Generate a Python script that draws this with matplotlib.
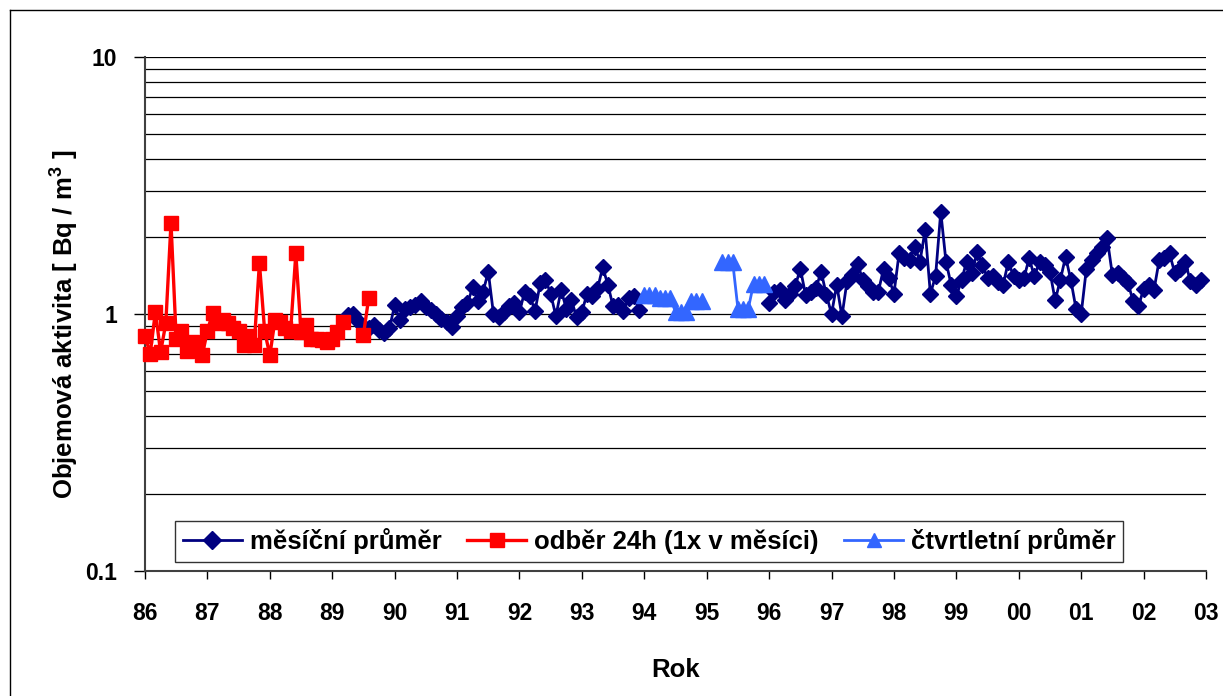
import numpy as np
import matplotlib
matplotlib.use("Agg")
import matplotlib.pyplot as plt
from matplotlib.lines import Line2D

plt.rcParams['font.family'] = ['Liberation Sans', 'DejaVu Sans']
plt.rcParams['font.weight'] = 'bold'
plt.rcParams['mathtext.fontset'] = 'custom'
plt.rcParams['mathtext.bf'] = 'Liberation Sans:bold'
plt.rcParams['mathtext.rm'] = 'Liberation Sans:bold'

# ---------------- data (monthly, month index 0 = Jan 1986) ----------------
red_start = 0
red_values = [0.82, 0.70, 1.02, 0.71, 0.92, 2.26, 0.80, 0.86, 0.72, 0.78,
              0.75, 0.69, 0.86, 1.01, 0.92, 0.95, 0.92, 0.88, 0.86, 0.76,
              0.82, 0.76, 1.58, 0.86, 0.69, 0.95, 0.93, 0.88, 0.86, 1.72,
              0.85, 0.91, 0.80, 0.80, 0.79, 0.78, 0.80, 0.85, 0.93, np.nan,
              np.nan, np.nan, 0.83, 1.15]

blue1_start = 39
blue1_values = [0.99, 1.00, 0.94, 0.90, 0.88, 0.91, 0.87, 0.84, 0.88, 1.08,
                0.95, 1.05, 1.06, 1.08, 1.12, 1.06, 1.04, 1.00, 0.96, 0.93,
                0.89, 0.98, 1.06, 1.10, 1.27, 1.12, 1.22, 1.46, 1.00, 0.97,
                1.02, 1.07, 1.10, 1.02, 1.22, 1.17, 1.03, 1.32, 1.36, 1.20,
                0.98, 1.24, 1.05, 1.13, 0.97, 1.02, 1.20, 1.18, 1.25, 1.52,
                1.30, 1.07, 1.08, 1.03, 1.15, 1.17, 1.04]

blue2_start = 120
blue2_values = [1.10, 1.22, 1.24, 1.13, 1.20, 1.28, 1.50, 1.19, 1.22, 1.26,
                1.46, 1.19, 1.00, 1.30, 0.98, 1.35, 1.42, 1.57, 1.36, 1.28,
                1.22, 1.22, 1.50, 1.38, 1.20, 1.73, 1.65, 1.62, 1.83, 1.60,
                2.12, 1.20, 1.40, 2.50, 1.60, 1.30, 1.17, 1.36, 1.60, 1.45,
                1.74, 1.55, 1.38, 1.40, 1.33, 1.30, 1.60, 1.40, 1.36, 1.38,
                1.65, 1.40, 1.60, 1.55, 1.46, 1.13, 1.36, 1.67, 1.36, 1.05,
                1.00, 1.50, 1.62, 1.72, 1.83, 1.97, 1.42, 1.45, 1.38, 1.32,
                1.12, 1.07, 1.25, 1.30, 1.24, 1.62, 1.65, 1.72, 1.44, 1.50,
                1.60, 1.34, 1.30, 1.36]

quart_start = 96
quart_values = [1.19, 1.19, 1.19, 1.15, 1.15, 1.15, 1.02, 1.02, 1.02,
                1.12, 1.12, 1.12, np.nan, np.nan, np.nan, 1.59, 1.59, 1.59,
                1.05, 1.05, 1.05, 1.31, 1.31, 1.31]

year_ticks = list(range(86, 104))
year_labels = [f"{y % 100:02d}" for y in year_ticks]
y_ticks = [0.1, 1, 10]
y_tick_labels = ["0.1", "1", "10"]


def months_to_x(start, values):
    return 86 + (start + np.arange(len(values))) / 12.0


W, H = 1223, 696
fig = plt.figure(figsize=(W / 100, H / 100), dpi=100)
ax = fig.add_axes([145 / W, 1 - 571 / H, (1206 - 145) / W, (571 - 57) / H])

navy = '#000080'
red = '#FF0000'
lblue = '#3366FF'

ax.plot(months_to_x(blue1_start, blue1_values), blue1_values, color=navy,
        lw=2, marker='D', ms=8.5, mec=navy, mfc=navy, zorder=3, clip_on=False,
        label='měsíční průměr')
ax.plot(months_to_x(blue2_start, blue2_values), blue2_values, color=navy,
        lw=2, marker='D', ms=8.5, mec=navy, mfc=navy, zorder=3, clip_on=False)
ax.plot(months_to_x(red_start, red_values), red_values, color=red,
        lw=2.4, marker='s', ms=10.5, mec=red, mfc=red, zorder=4, clip_on=False,
        label='odběr 24h (1x v měsíci)')
ax.plot(months_to_x(quart_start, quart_values), quart_values, color=lblue,
        lw=2, marker='^', ms=11, mec=lblue, mfc=lblue, zorder=3, clip_on=False,
        label='čtvrtletní průměr')

ax.set_yscale('log')
ax.set_ylim(0.1, 10)
ax.set_xlim(86, 103)
ax.set_yticks(y_ticks)
ax.set_yticklabels(y_tick_labels)
ax.yaxis.set_minor_locator(matplotlib.ticker.LogLocator(base=10, subs=np.arange(2, 10)))
ax.yaxis.set_minor_formatter(matplotlib.ticker.NullFormatter())
ax.set_xticks(year_ticks)
ax.set_xticklabels(year_labels)

ax.grid(True, which='both', axis='y', color='#000000', lw=0.9)
ax.set_axisbelow(True)
ax.tick_params(axis='y', which='minor', length=0)
ax.tick_params(axis='y', which='major', direction='out', length=8, width=1,
               pad=12, labelsize=16.5)
ax.tick_params(axis='x', which='major', direction='out', length=6, width=1,
               pad=16, labelsize=16.5)
for lab in ax.get_xticklabels() + ax.get_yticklabels():
    lab.set_fontweight('bold')

for s in ['top', 'right']:
    ax.spines[s].set_visible(False)
ax.spines['left'].set_color('#404040')
ax.spines['bottom'].set_color('#404040')
ax.spines['left'].set_linewidth(1.5)
ax.spines['bottom'].set_linewidth(1.5)

ax.set_xlabel('Rok', fontsize=18.5, fontweight='bold', labelpad=24)
ax.set_ylabel('Objemová aktivita [ Bq / m$^\\mathbf{3}$ ]', fontsize=18.5,
              fontweight='bold')
ax.yaxis.set_label_coords(-0.061, 0.48)

leg = ax.legend(loc='lower left', bbox_to_anchor=(30 / (1206 - 145), 9 / (571 - 57)),
                ncol=3, frameon=True, fancybox=False, shadow=False,
                prop={'size': 18.5, 'weight': 'bold'}, handlelength=2.3,
                columnspacing=1.0, handletextpad=0.3, borderpad=0.3,
                borderaxespad=0)
leg.get_frame().set_edgecolor('#000000')
leg.get_frame().set_linewidth(1)
for h in leg.legend_handles:
    h.set_markersize(9.5)

# outer chart border
fig.add_artist(Line2D([10 / W, 10 / W], [0, 1 - 10 / H], transform=fig.transFigure,
                      color='#000000', lw=1))
fig.add_artist(Line2D([10 / W, 1], [1 - 10 / H, 1 - 10 / H], transform=fig.transFigure,
                      color='#000000', lw=1))

fig.savefig('out.png', dpi=100)
